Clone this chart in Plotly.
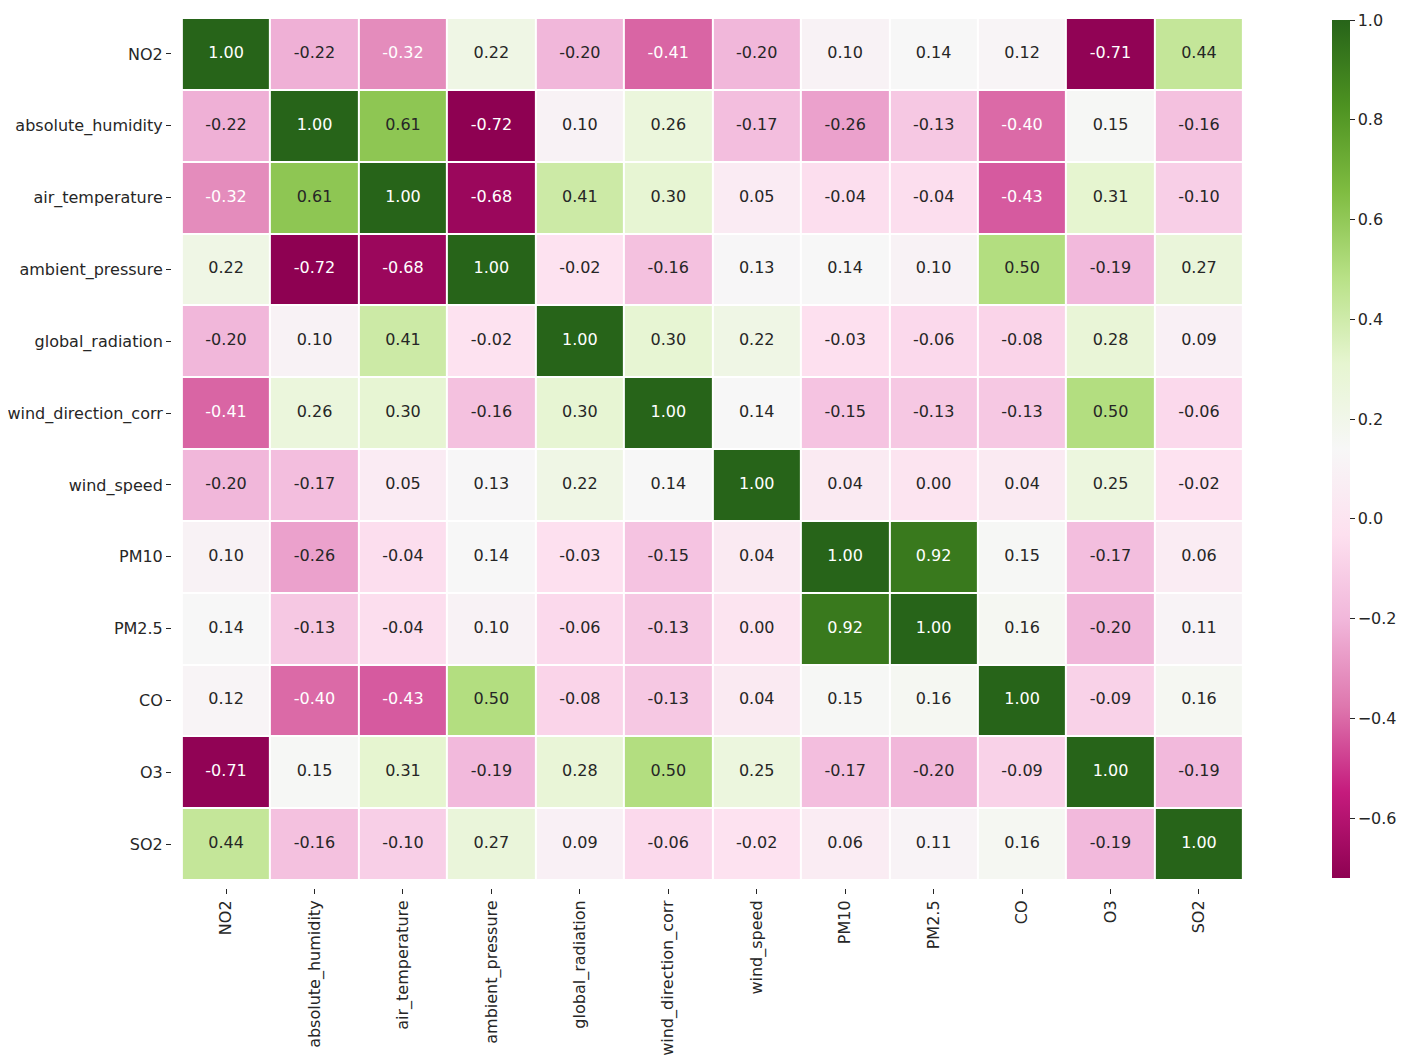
import plotly.graph_objects as go
import numpy as np

labels = ["NO2", "absolute_humidity", "air_temperature", "ambient_pressure",
          "global_radiation", "wind_direction_corr", "wind_speed", "PM10",
          "PM2.5", "CO", "O3", "SO2"]

r_no2 = [1.00, -0.22, -0.32, 0.22, -0.20, -0.41, -0.20, 0.10, 0.14, 0.12, -0.71, 0.44]
r_abs_hum = [-0.22, 1.00, 0.61, -0.72, 0.10, 0.26, -0.17, -0.26, -0.13, -0.40, 0.15, -0.16]
r_air_temp = [-0.32, 0.61, 1.00, -0.68, 0.41, 0.30, 0.05, -0.04, -0.04, -0.43, 0.31, -0.10]
r_amb_press = [0.22, -0.72, -0.68, 1.00, -0.02, -0.16, 0.13, 0.14, 0.10, 0.50, -0.19, 0.27]
r_glob_rad = [-0.20, 0.10, 0.41, -0.02, 1.00, 0.30, 0.22, -0.03, -0.06, -0.08, 0.28, 0.09]
r_wind_dir = [-0.41, 0.26, 0.30, -0.16, 0.30, 1.00, 0.14, -0.15, -0.13, -0.13, 0.50, -0.06]
r_wind_speed = [-0.20, -0.17, 0.05, 0.13, 0.22, 0.14, 1.00, 0.04, 0.00, 0.04, 0.25, -0.02]
r_pm10 = [0.10, -0.26, -0.04, 0.14, -0.03, -0.15, 0.04, 1.00, 0.92, 0.15, -0.17, 0.06]
r_pm25 = [0.14, -0.13, -0.04, 0.10, -0.06, -0.13, 0.00, 0.92, 1.00, 0.16, -0.20, 0.11]
r_co = [0.12, -0.40, -0.43, 0.50, -0.08, -0.13, 0.04, 0.15, 0.16, 1.00, -0.09, 0.16]
r_o3 = [-0.71, 0.15, 0.31, -0.19, 0.28, 0.50, 0.25, -0.17, -0.20, -0.09, 1.00, -0.19]
r_so2 = [0.44, -0.16, -0.10, 0.27, 0.09, -0.06, -0.02, 0.06, 0.11, 0.16, -0.19, 1.00]

rows = [r_no2, r_abs_hum, r_air_temp, r_amb_press, r_glob_rad, r_wind_dir,
        r_wind_speed, r_pm10, r_pm25, r_co, r_o3, r_so2]

zmin, zmax = -0.72, 1.0

piyg = ["#8e0152", "#c51b7d", "#de77ae", "#f1b6da", "#fde0ef", "#f7f7f7",
        "#e6f5d0", "#b8e186", "#7fbc41", "#4d9221", "#276419"]
colorscale = [[i / 10, c] for i, c in enumerate(piyg)]


def hex2rgb(h):
    return np.array([int(h[i:i + 2], 16) / 255 for i in (1, 3, 5)])


stops = [hex2rgb(c) for c in piyg]


def color_at(v):
    t = (v - zmin) / (zmax - zmin)
    t = min(max(t, 0), 1) * 10
    i = min(int(t), 9)
    f = t - i
    return stops[i] * (1 - f) + stops[i + 1] * f


def lum(rgb):
    lin = np.where(rgb <= 0.03928, rgb / 12.92, ((rgb + 0.055) / 1.055) ** 2.4)
    return 0.2126 * lin[0] + 0.7152 * lin[1] + 0.0722 * lin[2]


tx, ty, tt, tc = [], [], [], []
for ri, row in enumerate(rows):
    for ci, v in enumerate(row):
        tx.append(labels[ci])
        ty.append(labels[ri])
        tt.append(f"{v:.2f}")
        tc.append("#262626" if lum(color_at(v)) > 0.408 else "#ffffff")

W, H = 1416, 1062
OFF = 8  # page body margin in the browser
PL, PR, PT, PB = 172 - OFF, 1253 - OFF, 10 - OFF, 888 - OFF
CBX = 1322 - OFF
FONT = "DejaVu Sans"

fig = go.Figure()
fig.add_trace(go.Heatmap(
    z=rows, x=labels, y=labels, zmin=zmin, zmax=zmax,
    colorscale=colorscale, xgap=2, ygap=2, hoverinfo="skip",
    colorbar=dict(
        x=CBX / W, xanchor="left", xref="paper",
        y=1 - PT / H, yanchor="top", yref="paper",
        len=(PB - PT) / H, lenmode="fraction",
        thickness=18, outlinewidth=0, ticks="outside", ticklen=5,
        tickcolor="#262626", tickvals=[-0.6, -0.4, -0.2, 0.0, 0.2, 0.4, 0.6, 0.8, 1.0],
        ticktext=["\u22120.6", "\u22120.4", "\u22120.2", "0.0", "0.2", "0.4", "0.6", "0.8", "1.0"],
        tickfont=dict(family=FONT, size=16, color="#262626"),
    ),
))
fig.add_trace(go.Scatter(
    x=tx, y=ty, text=tt, mode="text", hoverinfo="skip", showlegend=False,
    textfont=dict(family=FONT, size=16, color=tc),
))

fig.update_layout(
    width=W, height=H,
    margin=dict(l=0, r=0, t=0, b=0, pad=0, autoexpand=False),
    paper_bgcolor="white", plot_bgcolor="white",
    showlegend=False,
)
fig.update_xaxes(type="category", tickangle=-90, ticks="outside", ticklen=5,
                 domain=[PL / W, PR / W],
                 tickcolor="#262626", showgrid=False, zeroline=False, automargin=False,
                 tickfont=dict(family=FONT, size=16, color="#262626"))
fig.update_yaxes(type="category", autorange="reversed", ticks="outside", ticklen=5,
                 domain=[1 - PB / H, 1 - PT / H],
                 tickcolor="#262626", showgrid=False, zeroline=False, automargin=False,
                 tickfont=dict(family=FONT, size=16, color="#262626"))

fig.write_html("out.html")
